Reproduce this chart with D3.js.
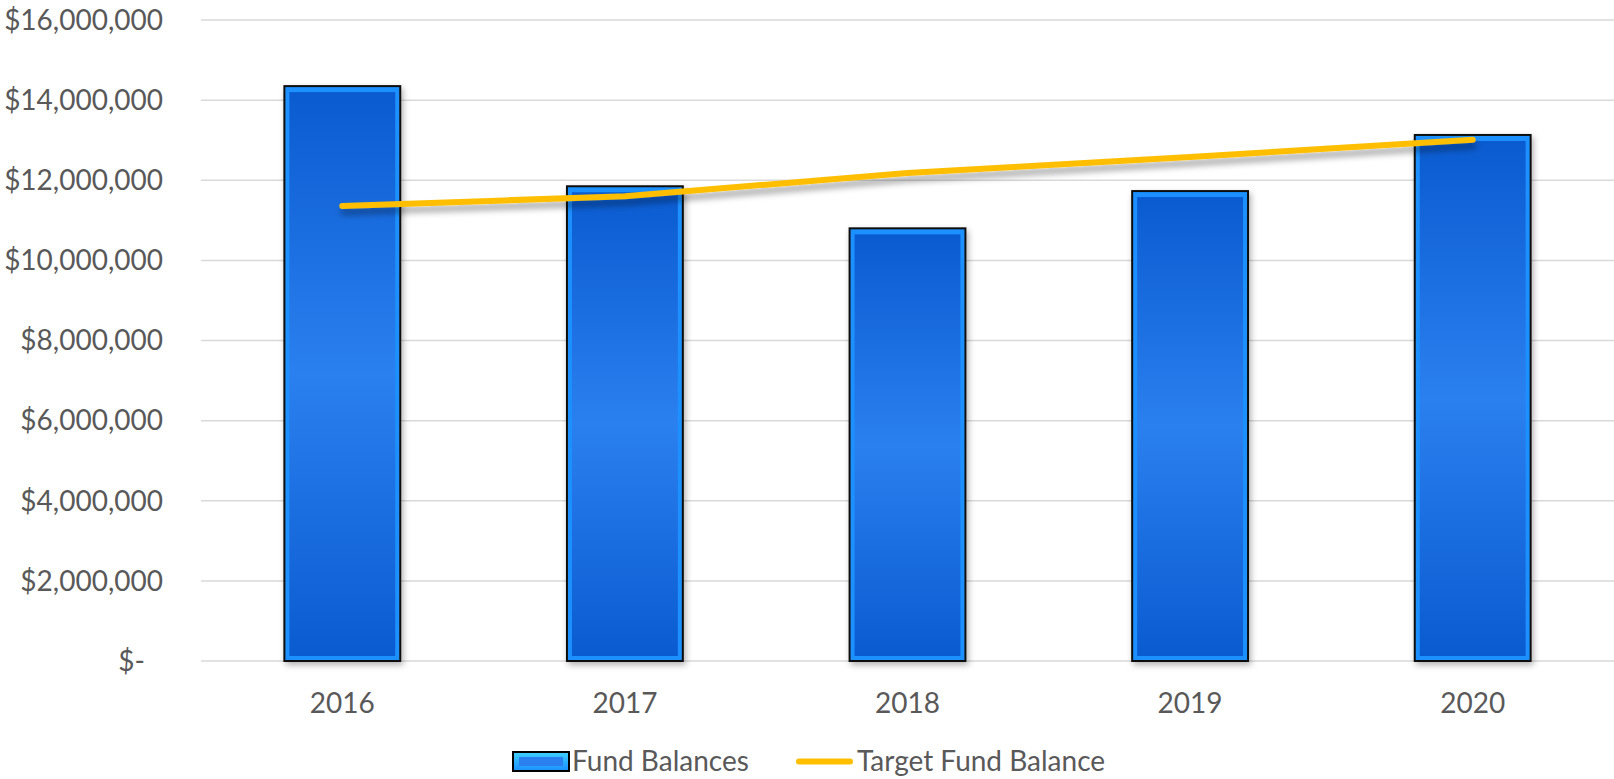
<!DOCTYPE html>
<html>
<head>
<meta charset="utf-8">
<script src="https://cdn.jsdelivr.net/npm/d3@7"></script>
<style>
  html, body { margin: 0; padding: 0; background: #fff; }
  svg { display: block; font-family: Lato, "Open Sans", sans-serif; }
</style>
</head>
<body>
<div id="chart"></div>
<script>
// Data
const years = ['2016', '2017', '2018', '2019', '2020'];
const fundBalances = [14350000, 11850000, 10800000, 11730000, 13130000];
const targetBalance = [11360000, 11600000, 12180000, 12580000, 13010000];
const yTicks = [0, 2000000, 4000000, 6000000, 8000000, 10000000, 12000000, 14000000, 16000000];

const width = 1614, height = 779;
const margin = { top: 20, right: 0, bottom: 118, left: 201 };
const innerW = width - margin.left - margin.right;
const innerH = height - margin.top - margin.bottom;

const colors = {
  text: '#595959',
  grid: '#d9d9d9',
  line: '#ffbf00',
  barEdge: '#1a90ff',
  barDark: '#0a5bd0',
  barLight: '#2b80ef'
};

const svg = d3.select('#chart').append('svg')
  .attr('width', width)
  .attr('height', height);

const defs = svg.append('defs');

const grad = defs.append('linearGradient')
  .attr('id', 'barGrad')
  .attr('x1', 0).attr('y1', 0).attr('x2', 0).attr('y2', 1);
grad.append('stop').attr('offset', '0%').attr('stop-color', colors.barDark);
grad.append('stop').attr('offset', '50%').attr('stop-color', colors.barLight);
grad.append('stop').attr('offset', '100%').attr('stop-color', colors.barDark);

const legGrad = defs.append('linearGradient')
  .attr('id', 'legGrad')
  .attr('x1', 0).attr('y1', 0).attr('x2', 0).attr('y2', 1);
legGrad.append('stop').attr('offset', '0%').attr('stop-color', '#3fd0ff');
legGrad.append('stop').attr('offset', '100%').attr('stop-color', '#1a8fff');

const shadow = defs.append('filter')
  .attr('id', 'shadow')
  .attr('x', '-20%').attr('y', '-20%').attr('width', '140%').attr('height', '140%');
shadow.append('feDropShadow')
  .attr('dx', 2).attr('dy', 3).attr('stdDeviation', 3)
  .attr('flood-color', '#000').attr('flood-opacity', 0.3);

const lineShadow = defs.append('filter')
  .attr('id', 'lineShadow')
  .attr('x', '-5%').attr('y', '-50%').attr('width', '110%').attr('height', '300%');
lineShadow.append('feDropShadow')
  .attr('dx', 1).attr('dy', 6).attr('stdDeviation', 3)
  .attr('flood-color', '#000').attr('flood-opacity', 0.35);

const g = svg.append('g')
  .attr('transform', `translate(${margin.left},${margin.top})`);

// Scales
const x = d3.scaleBand()
  .domain(years)
  .range([0, innerW])
  .paddingInner(0.59)
  .paddingOuter(0.295);

const y = d3.scaleLinear()
  .domain([0, 16000000])
  .range([innerH, 0]);

// Grid lines
g.selectAll('.grid')
  .data(yTicks)
  .enter()
  .append('line')
  .attr('class', 'grid')
  .attr('x1', 0)
  .attr('x2', innerW)
  .attr('y1', d => y(d))
  .attr('y2', d => y(d))
  .attr('stroke', colors.grid)
  .attr('stroke-width', 1.5);

// Y axis labels
const fmt = d3.format(',');
g.selectAll('.ylab')
  .data(yTicks)
  .enter()
  .append('text')
  .attr('class', 'ylab')
  .attr('x', d => d === 0 ? -56 : -38)
  .attr('y', d => y(d))
  .attr('dy', '0.35em')
  .attr('text-anchor', 'end')
  .attr('fill', colors.text)
  .attr('font-size', '28px')
  .text(d => d === 0 ? '$-' : '$' + fmt(d));

// Bars
const bars = g.selectAll('.bar')
  .data(years.map((yr, i) => ({ yr, v: fundBalances[i] })))
  .enter()
  .append('g')
  .attr('class', 'bar');

bars.append('rect')
  .attr('x', d => x(d.yr))
  .attr('y', d => y(d.v))
  .attr('width', x.bandwidth())
  .attr('height', d => innerH - y(d.v))
  .attr('fill', colors.barEdge)
  .attr('stroke', '#111')
  .attr('stroke-width', 2)
  .attr('filter', 'url(#shadow)');

bars.append('rect')
  .attr('x', d => x(d.yr) + 5)
  .attr('y', d => y(d.v) + 6)
  .attr('width', x.bandwidth() - 10)
  .attr('height', d => innerH - y(d.v) - 11)
  .attr('fill', 'url(#barGrad)');

// Target line
const line = d3.line()
  .x((d, i) => x(years[i]) + x.bandwidth() / 2)
  .y(d => y(d));

g.append('path')
  .datum(targetBalance)
  .attr('fill', 'none')
  .attr('stroke', colors.line)
  .attr('stroke-width', 6)
  .attr('stroke-linecap', 'round')
  .attr('stroke-linejoin', 'round')
  .attr('filter', 'url(#lineShadow)')
  .attr('d', line);

// X axis labels
g.selectAll('.xlab')
  .data(years)
  .enter()
  .append('text')
  .attr('class', 'xlab')
  .attr('x', d => x(d) + x.bandwidth() / 2)
  .attr('y', innerH + 52)
  .attr('text-anchor', 'middle')
  .attr('fill', colors.text)
  .attr('font-size', '28px')
  .text(d => d);

// Legend
const legend = svg.append('g')
  .attr('transform', `translate(513, 752)`);

legend.append('rect')
  .attr('x', 0).attr('y', 0)
  .attr('width', 56).attr('height', 19)
  .attr('fill', 'url(#legGrad)')
  .attr('stroke', '#000')
  .attr('stroke-width', 2);

legend.append('rect')
  .attr('x', 6).attr('y', 5)
  .attr('width', 44).attr('height', 9)
  .attr('fill', colors.barLight);

legend.append('text')
  .attr('x', 59)
  .attr('y', 9.5)
  .attr('dy', '0.35em')
  .attr('fill', colors.text)
  .attr('font-size', '28px')
  .text('Fund Balances');

legend.append('line')
  .attr('x1', 286).attr('x2', 337)
  .attr('y1', 9.5).attr('y2', 9.5)
  .attr('stroke', colors.line)
  .attr('stroke-width', 6)
  .attr('stroke-linecap', 'round');

legend.append('text')
  .attr('x', 344)
  .attr('y', 9.5)
  .attr('dy', '0.35em')
  .attr('fill', colors.text)
  .attr('font-size', '28px')
  .text('Target Fund Balance');
</script>
</body>
</html>
